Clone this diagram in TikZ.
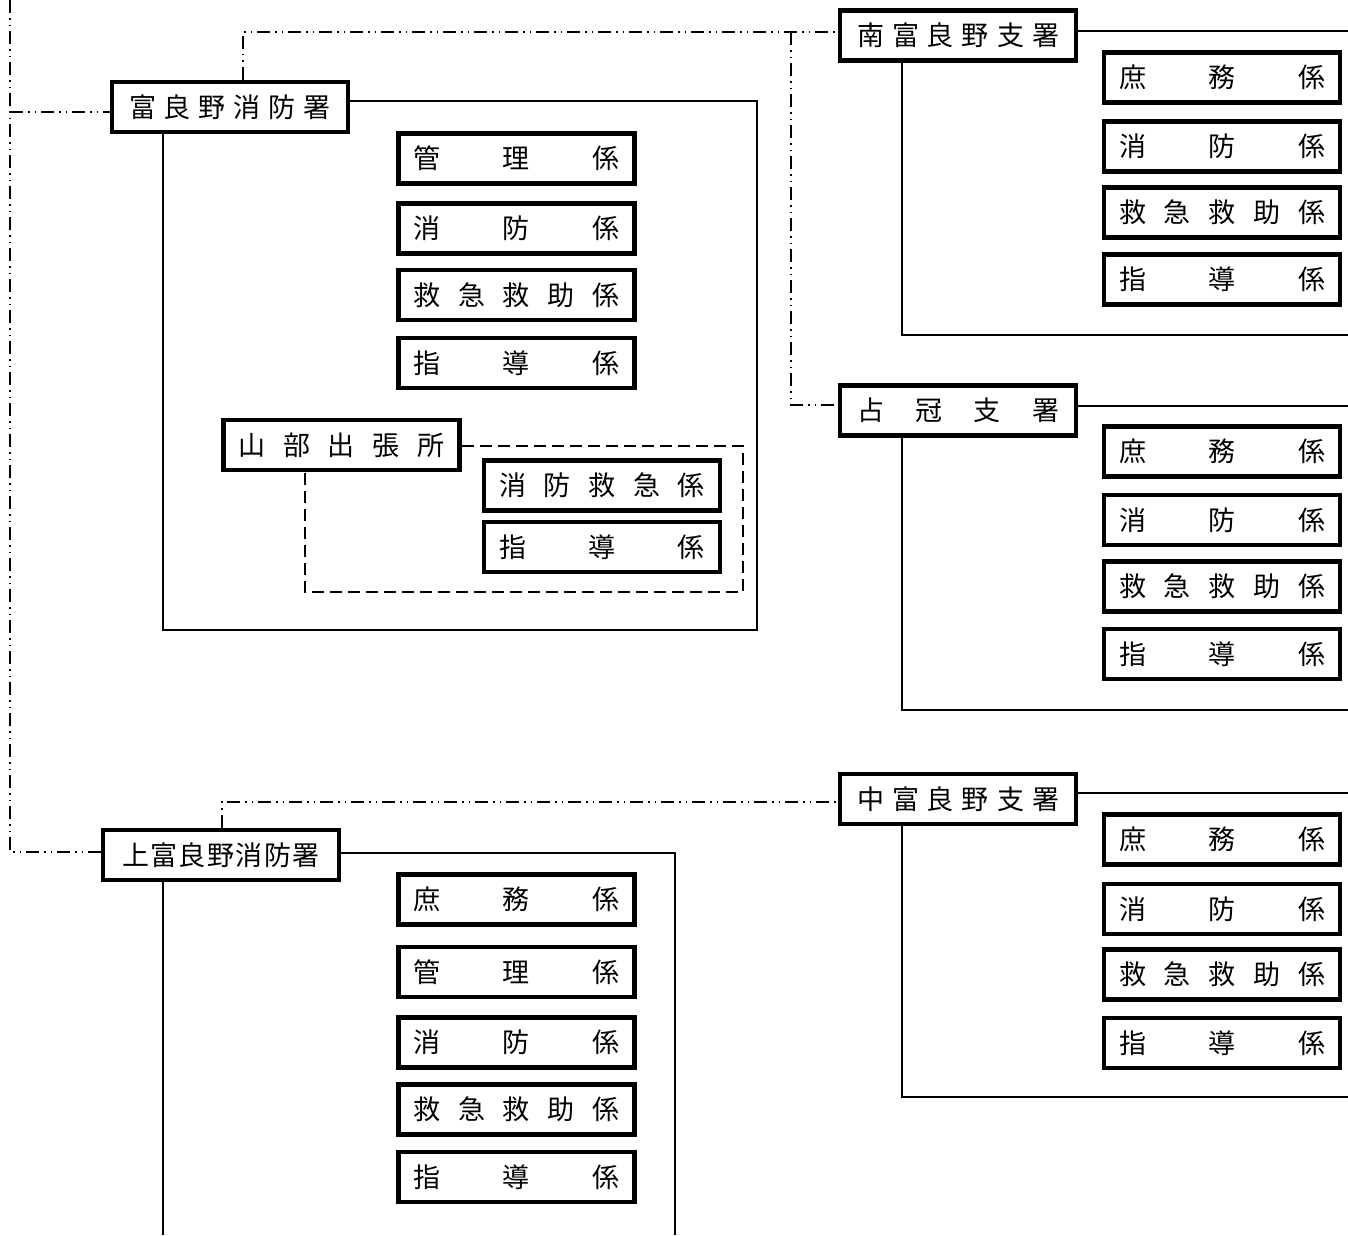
\documentclass[tikz,border=0pt]{standalone}
\usepackage{fontspec}
\newfontfamily\jpfont{Noto Sans CJK JP}
\tikzset{
  unitbox/.style={draw, line width=4.5pt, fill=white, inner sep=0pt,
    minimum width=236pt, minimum height=50pt, text width=#1,
    font=\jpfont\fontsize{27}{29}\selectfont},
  unitbox/.default=206pt,
  thinline/.style={line width=2pt},
  ddline/.style={line width=2pt, dash pattern=on 13pt off 5pt on 1.5pt off 5pt on 1.5pt off 5pt},
  dline/.style={line width=2pt, dash pattern=on 12pt off 6pt},
}
\begin{document}
\begin{tikzpicture}[x=1pt,y=-1pt]
\useasboundingbox (0,0) rectangle (1348,1235);

% ---------- 富良野消防署 ----------
\node[unitbox=202pt] (fur) at (230,107) {富\hfill 良\hfill 野\hfill 消\hfill 防\hfill 署};
\node[unitbox] (f1) at (516.5,158.5) {管\hfill 理\hfill 係};
\node[unitbox] (f2) at (516.5,228.5) {消\hfill 防\hfill 係};
\node[unitbox] (f3) at (516.5,295) {救\hfill 急\hfill 救\hfill 助\hfill 係};
\node[unitbox] (f4) at (516.5,363) {指\hfill 導\hfill 係};

% ---------- 山部出張所 ----------
\node[unitbox] (yam) at (341.5,445) {山\hfill 部\hfill 出\hfill 張\hfill 所};
\node[unitbox] (y1) at (602,485.5) {消\hfill 防\hfill 救\hfill 急\hfill 係};
\node[unitbox] (y2) at (602,547) {指\hfill 導\hfill 係};

% ---------- 上富良野消防署 ----------
\node[unitbox=198pt] (kami) at (221,855) {上\hfill 富\hfill 良\hfill 野\hfill 消\hfill 防\hfill 署};
\node[unitbox] (k1) at (516.5,899.5) {庶\hfill 務\hfill 係};
\node[unitbox] (k2) at (516.5,972) {管\hfill 理\hfill 係};
\node[unitbox] (k3) at (516.5,1042.5) {消\hfill 防\hfill 係};
\node[unitbox] (k4) at (516.5,1109.5) {救\hfill 急\hfill 救\hfill 助\hfill 係};
\node[unitbox] (k5) at (516.5,1177) {指\hfill 導\hfill 係};

% ---------- 南富良野支署 ----------
\node[unitbox=202pt] (mina) at (958,35.5) {南\hfill 富\hfill 良\hfill 野\hfill 支\hfill 署};
\node[unitbox] (m1) at (1222,77.5) {庶\hfill 務\hfill 係};
\node[unitbox] (m2) at (1222,146.5) {消\hfill 防\hfill 係};
\node[unitbox] (m3) at (1222,212.5) {救\hfill 急\hfill 救\hfill 助\hfill 係};
\node[unitbox] (m4) at (1222,279.5) {指\hfill 導\hfill 係};

% ---------- 占冠支署 ----------
\node[unitbox=202pt] (shim) at (958,410.5) {占\hfill 冠\hfill 支\hfill 署};
\node[unitbox] (s1) at (1222,451.5) {庶\hfill 務\hfill 係};
\node[unitbox] (s2) at (1222,520) {消\hfill 防\hfill 係};
\node[unitbox] (s3) at (1222,586.5) {救\hfill 急\hfill 救\hfill 助\hfill 係};
\node[unitbox] (s4) at (1222,654) {指\hfill 導\hfill 係};

% ---------- 中富良野支署 ----------
\node[unitbox=202pt] (naka) at (958,799) {中\hfill 富\hfill 良\hfill 野\hfill 支\hfill 署};
\node[unitbox] (n1) at (1222,839.5) {庶\hfill 務\hfill 係};
\node[unitbox] (n2) at (1222,909) {消\hfill 防\hfill 係};
\node[unitbox] (n3) at (1222,974.5) {救\hfill 急\hfill 救\hfill 助\hfill 係};
\node[unitbox] (n4) at (1222,1043) {指\hfill 導\hfill 係};

% ---------- coordinates ----------
\coordinate (L0) at (10,0);
\coordinate (L1) at (10,112);
\coordinate (L2) at (10,852);
\coordinate (T1) at (243,32);
\coordinate (B1) at (791,32);
\coordinate (B2) at (791,405);
\coordinate (F1) at (757,101);
\coordinate (F2) at (757,630);
\coordinate (F3) at (163,630);
\coordinate (Y1) at (743,446);
\coordinate (Y2) at (743,592);
\coordinate (Y3) at (305,592);
\coordinate (K1) at (222,802);
\coordinate (K2) at (675,853);
\coordinate (K3) at (675,1235);
\coordinate (K4) at (163,1235);
\coordinate (MR) at (1348,31);
\coordinate (MS) at (902,335);
\coordinate (MSE) at (1348,335);
\coordinate (SR) at (1348,406);
\coordinate (SS) at (902,710);
\coordinate (SSE) at (1348,710);
\coordinate (NR) at (1348,793);
\coordinate (NS) at (902,1097);
\coordinate (NSE) at (1348,1097);

% ---------- dash-dot-dot connectors ----------
\draw[ddline] (L0) -- (L2) -- (L2 -| kami.west);
\draw[ddline] (L1) -- (L1 -| fur.west);
\draw[ddline] (fur.north -| T1) -- (T1) -- (T1 -| mina.west);
\draw[ddline] (B1) -- (B2) -- (B2 -| shim.west);
\draw[ddline] (kami.north -| K1) -- (K1) -- (K1 -| naka.west);

% ---------- solid frames ----------
\draw[thinline] (F1 -| fur.east) -- (F1) -- (F2) -- (F3) -- (fur.south -| F3);
\draw[thinline] (K2 -| kami.east) -- (K2) -- (K3);
\draw[thinline] (kami.south -| K4) -- (K4);
\draw[thinline] (MR -| mina.east) -- (MR);
\draw[thinline] (mina.south -| MS) -- (MS) -- (MSE);
\draw[thinline] (SR -| shim.east) -- (SR);
\draw[thinline] (shim.south -| SS) -- (SS) -- (SSE);
\draw[thinline] (NR -| naka.east) -- (NR);
\draw[thinline] (naka.south -| NS) -- (NS) -- (NSE);

% ---------- dashed frame of 山部出張所 ----------
\draw[dline] (Y1 -| yam.east) -- (Y1) -- (Y2) -- (Y3) -- (yam.south -| Y3);
\end{tikzpicture}
\end{document}
